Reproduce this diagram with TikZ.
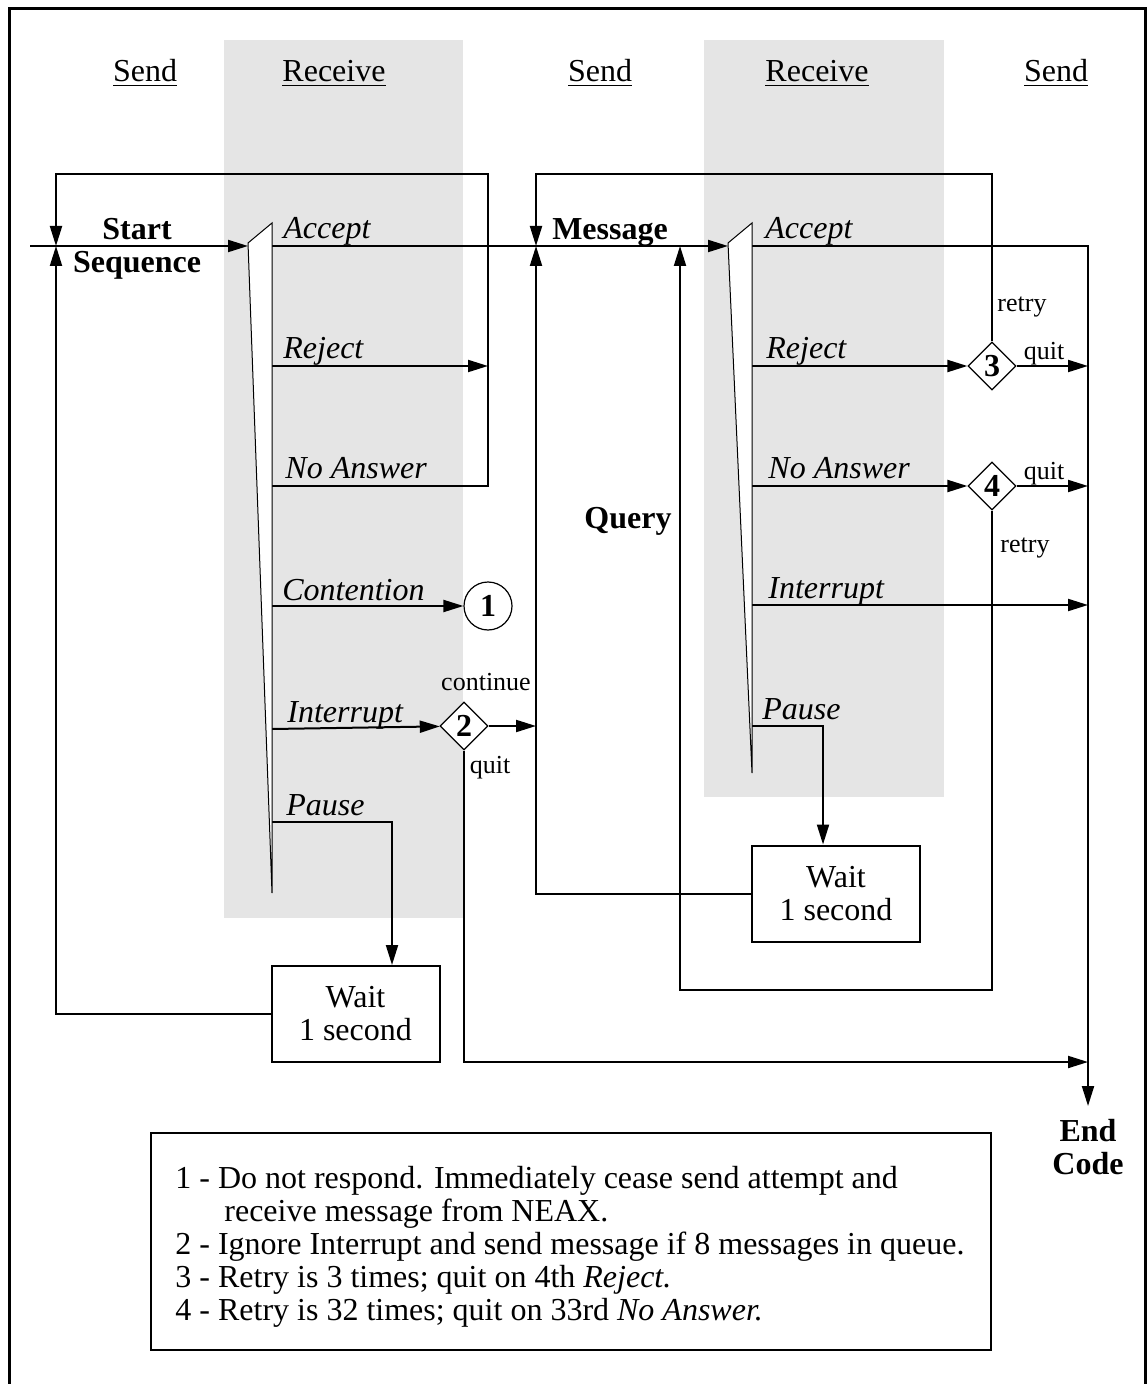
\documentclass[tikz,border=0pt]{standalone}
\usepackage{fontspec}
\setmainfont{Liberation Serif}
\usetikzlibrary{shapes.geometric,positioning,arrows.meta}
\definecolor{bandcolor}{RGB}{229,229,229}

\begin{document}
\begin{tikzpicture}[%
    x=0.5pt, y=-0.5pt,                     % one unit is one pixel, y runs down
    >={Triangle[length=10pt,width=6pt]},   % solid arrow heads
    every node/.style={font=\fontsize{16}{16.5}\selectfont},
    ]
\tikzset{
  norm/.style={line width=1pt},
  band/.style={fill=bandcolor},
  wedge/.style={draw, fill=white, line width=0.5pt},
  head/.style={anchor=base},
  tag/.style={anchor=base west, inner xsep=0pt, font=\fontsize{16}{16.5}\selectfont\itshape},
  hint/.style={anchor=base, font=\fontsize{13}{14}\selectfont},
  entry/.style={align=center, font=\fontsize{16}{16.5}\selectfont\bfseries},
  test/.style={draw, diamond, line width=0.6pt, fill=white, inner sep=0pt,
    minimum width=24pt, minimum height=24pt, font=\fontsize{16}{16}\selectfont\bfseries},
  conn/.style={draw, circle, line width=0.6pt, fill=white, inner sep=0pt,
    minimum size=24pt, font=\fontsize{16}{16}\selectfont\bfseries},
  proc/.style={draw, rectangle, line width=1pt, align=center,
    minimum width=84pt, minimum height=48pt, inner sep=0pt},
  legend/.style={draw, rectangle, line width=1pt, minimum width=420pt,
    minimum height=108.5pt, inner sep=0pt},
}
\useasboundingbox (0,0) rectangle (1147,1384);

% receive bands and frame
\fill[band] (224,40) rectangle (463,918);
\fill[band] (704,40) rectangle (944,797);
\draw[line width=1.5pt] (9.5,1390) -- (9.5,9) -- (1145,9) -- (1145,1390);

% column heads
\node[head] (h1) at (145,82) {\underline{Send}};
\node[head] (h2) at (334,82) {\underline{Receive}};
\node[head] (h3) at (600,82) {\underline{Send}};
\node[head] (h4) at (817,82) {\underline{Receive}};
\node[head] (h5) at (1056,82) {\underline{Send}};

% junctions
\coordinate (in) at (30,246);
\coordinate (j1) at (56,246);
\coordinate (j2) at (536,246);
\coordinate (q) at (680,246);
\coordinate (t1) at (248,246);
\coordinate (t2) at (728,246);
\coordinate (loop1) at (488,174);
\coordinate (loop2) at (992,174);
\coordinate (loop3) at (992,990);
\coordinate (p1) at (392,822);
\coordinate (p2) at (823,726);
\coordinate (e5) at (1088,1062);

% wedge outputs
\coordinate (w1a) at (272,246);
\coordinate (w1r) at (272,366);
\coordinate (w1n) at (272,486);
\coordinate (w1c) at (272,606);
\coordinate (w1i) at (272,729);
\coordinate (w1p) at (272,822);
\coordinate (w2a) at (752,246);
\coordinate (w2r) at (752,366);
\coordinate (w2n) at (752,486);
\coordinate (w2i) at (752,605);
\coordinate (w2p) at (752,726);

\node[test] (d2) at (464,726) {2};
\node[test] (d3) at (992,366) {3};
\node[test] (d4) at (992,486) {4};
\node[conn] (c1) at (488,606) {1};
\node[proc] (wait1) at (355.5,1014) {Wait\\1 second};
\node[proc] (wait2) at (836,893.5) {Wait\\1 second};

\node[entry] (start) at (137,249) {Start\\Sequence};
\node[entry, anchor=base] (msg) at (610,239.5) {Message};
\node[entry, anchor=base] (query) at (628,529) {Query};
\node[entry, anchor=north, inner sep=6.5pt] (endc) at (1088,1106) {End\\Code};

%connect
\draw[norm,->] (in) -- (t1);
\draw[norm,->] (w1n) -| (loop1) -| (j1);
\draw[norm,->] (w1r) -- (w1r -| loop1);
\draw[norm,->] (wait1.west) -| (j1);
\draw[norm,->] (w1c) -- (c1);
\draw[norm,->] (w1i) -- (d2);
\draw[norm,->] (d2.east) -- (d2.east -| j2);
\draw[norm,->] (d2.south) |- (e5);
\draw[norm,->] (w1p) -- (p1) -- (p1 |- wait1.north);
\draw[norm,->] (w1a) -- (t2);

\draw[norm,->] (d3.north) -- (loop2) -| (j2);
\draw[norm,->] (wait2.west) -| (j2);
\draw[norm,->] (d4.south) -- (loop3) -| (q);
\draw[norm,->] (w2a) -| (endc.north);
\draw[norm,->] (w2r) -- (d3);
\draw[norm,->] (d3.east) -- (d3.east -| endc.north);
\draw[norm,->] (w2n) -- (d4);
\draw[norm,->] (d4.east) -- (d4.east -| endc.north);
\draw[norm,->] (w2i) -- (w2i -| endc.north);
\draw[norm,->] (w2p) -- (p2) -- (p2 |- wait2.north);

% wedges
\draw[wedge] (272,223) -- (248,243) -- (272,893) -- cycle;
\draw[wedge] (752,223) -- (728,243) -- (752,773) -- cycle;

% signals
\node[tag] (l1a) at (283,239) {Accept};
\node[tag] (l1r) at (283,359) {Reject};
\node[tag] (l1n) at (285,479) {No Answer};
\node[tag] (l1c) at (282,600) {Contention};
\node[tag] (l1i) at (287,722) {Interrupt};
\node[tag] (l1p) at (286,815) {Pause};
\node[tag] (l2a) at (765,239) {Accept};
\node[tag] (l2r) at (766,359) {Reject};
\node[tag] (l2n) at (768,479) {No Answer};
\node[tag] (l2i) at (768,598) {Interrupt};
\node[tag] (l2p) at (762,719) {Pause};

\node[hint] (r3) at (1022,312) {retry};
\node[hint] (q3) at (1044,360) {quit};
\node[hint] (q4) at (1044,480) {quit};
\node[hint] (r4) at (1025,552) {retry};
\node[hint] (k2) at (486,690) {continue};
\node[hint] (q2) at (490,773) {quit};

% notes
\node[legend] (notes) at (571,1241.5) {};
\node[anchor=north west, inner xsep=12.5pt, inner ysep=17pt, align=left,
  font=\fontsize{16}{16.5}\selectfont] (notetext) at (notes.north west)
  {1 - Do not respond. Immediately cease send attempt and\\
   \hspace*{24.5pt}receive message from NEAX.\\
   2 - Ignore Interrupt and send message if 8 messages in queue.\\
   3 - Retry is 3 times; quit on 4th \textit{Reject.}\\
   4 - Retry is 32 times; quit on 33rd \textit{No Answer.}};

\end{tikzpicture}
\end{document}
